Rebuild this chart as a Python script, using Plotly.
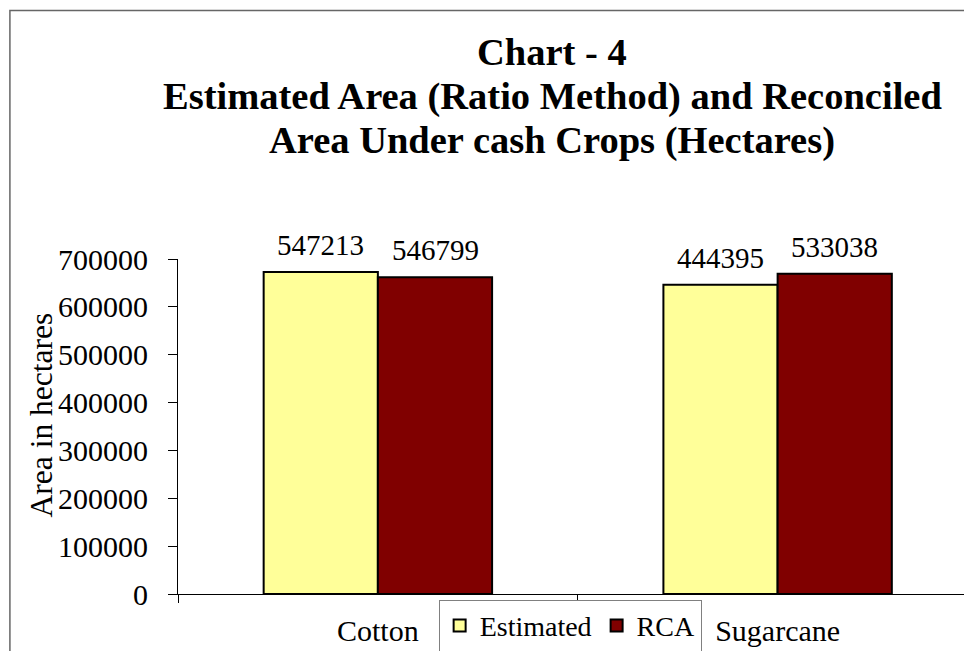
import plotly.graph_objects as go

# ---- data ----
categories = ["Cotton", "Sugarcane"]
series_names = ["Estimated", "RCA"]
estimated_heights = [673000, 646000]
rca_heights = [662000, 669000]
estimated_labels = ["547213", "444395"]
rca_labels = ["546799", "533038"]
y_ticks = [0, 100000, 200000, 300000, 400000, 500000, 600000, 700000]
title_lines = ["Chart - 4",
               "Estimated Area (Ratio Method) and Reconciled",
               "Area Under cash Crops (Hectares)"]
y_title = "Area in hectares"

# ---- geometry (pixels) ----
W, H = 964, 651
L, R, T, B = 177.5, 964, 259, 594.3
CAT_PX = 400.0
FONT = "Liberation Serif, Times New Roman, serif"

def px_x(px):
    return (px - L) / (R - L)

def px_y(py):
    return (B - py) / (B - T)

bargap = 1.5 / 3.5
bar_px = (1 - bargap) / 2 * CAT_PX

fig = go.Figure()
fig.add_trace(go.Bar(x=categories, y=estimated_heights, name=series_names[0],
                     marker=dict(color="#FFFF99", line=dict(color="black", width=2))))
fig.add_trace(go.Bar(x=categories, y=rca_heights, name=series_names[1],
                     marker=dict(color="#800000", line=dict(color="black", width=2))))

annotations = []
# data labels
for heights, labels, sign in [(estimated_heights, estimated_labels, -1),
                              (rca_heights, rca_labels, 1)]:
    for c, h, t in zip(categories, heights, labels):
        annotations.append(dict(x=c, y=h, xref="x", yref="y", text=t,
                                showarrow=False, xshift=sign * bar_px / 2,
                                yshift=27, yanchor="middle", xanchor="center",
                                font=dict(family=FONT, size=29, color="black")))
# title lines
for line, base in zip(title_lines, [65, 109.3, 152.7]):
    annotations.append(dict(x=px_x(552), y=px_y(base - 12.8), xref="paper", yref="paper",
                            text="<b>" + line + "</b>", showarrow=False,
                            xanchor="center", yanchor="middle",
                            font=dict(family=FONT, size=38.5, color="black")))
# y axis title
annotations.append(dict(x=px_x(41), y=px_y(415), xref="paper", yref="paper",
                        text=y_title, showarrow=False, textangle=-90,
                        xanchor="center", yanchor="middle",
                        font=dict(family=FONT, size=31.5, color="black")))

fig.update_layout(
    width=W, height=H,
    margin=dict(l=L, r=W - R, t=T, b=H - B, pad=0, autoexpand=False),
    paper_bgcolor="white", plot_bgcolor="white",
    barmode="group", bargap=bargap, bargroupgap=0,
    font=dict(family=FONT, size=29, color="black"),
    showlegend=True,
    hovermode=False,
    legend=dict(orientation="h", x=px_x(438.3), xanchor="left",
                y=px_y(600), yanchor="top",
                bordercolor="#808080", borderwidth=1, bgcolor="white",
                font=dict(family=FONT, size=28, color="black"),
                traceorder="normal"),
    annotations=annotations,
    shapes=[dict(type="rect", xref="paper", yref="paper",
                 x0=px_x(9.3), x1=px_x(1100), y0=px_y(800), y1=px_y(10.3),
                 line=dict(color="#666666", width=1.5), layer="below")],
)
fig.update_xaxes(type="category", range=[-0.5, -0.5 + (R - L) / CAT_PX],
                 showline=True, linecolor="black", linewidth=1,
                 ticks="outside", tickson="boundaries", ticklen=8,
                 tickcolor="black", tickwidth=1, showgrid=False,
                 ticklabelstandoff=10,
                 tickfont=dict(family=FONT, size=30, color="black"))
fig.update_yaxes(range=[0, 700000], tickvals=y_ticks,
                 ticktext=[str(v) for v in y_ticks],
                 showline=True, linecolor="black", linewidth=1,
                 ticks="outside", ticklen=9, tickcolor="black", tickwidth=1,
                 showgrid=False, zeroline=False, ticklabelstandoff=14,
                 tickfont=dict(family=FONT, size=30, color="black"))

fig.write_html("out.html",
               config={"displayModeBar": False},
               post_script="document.body.style.margin='0px';document.body.style.overflow='hidden';")
